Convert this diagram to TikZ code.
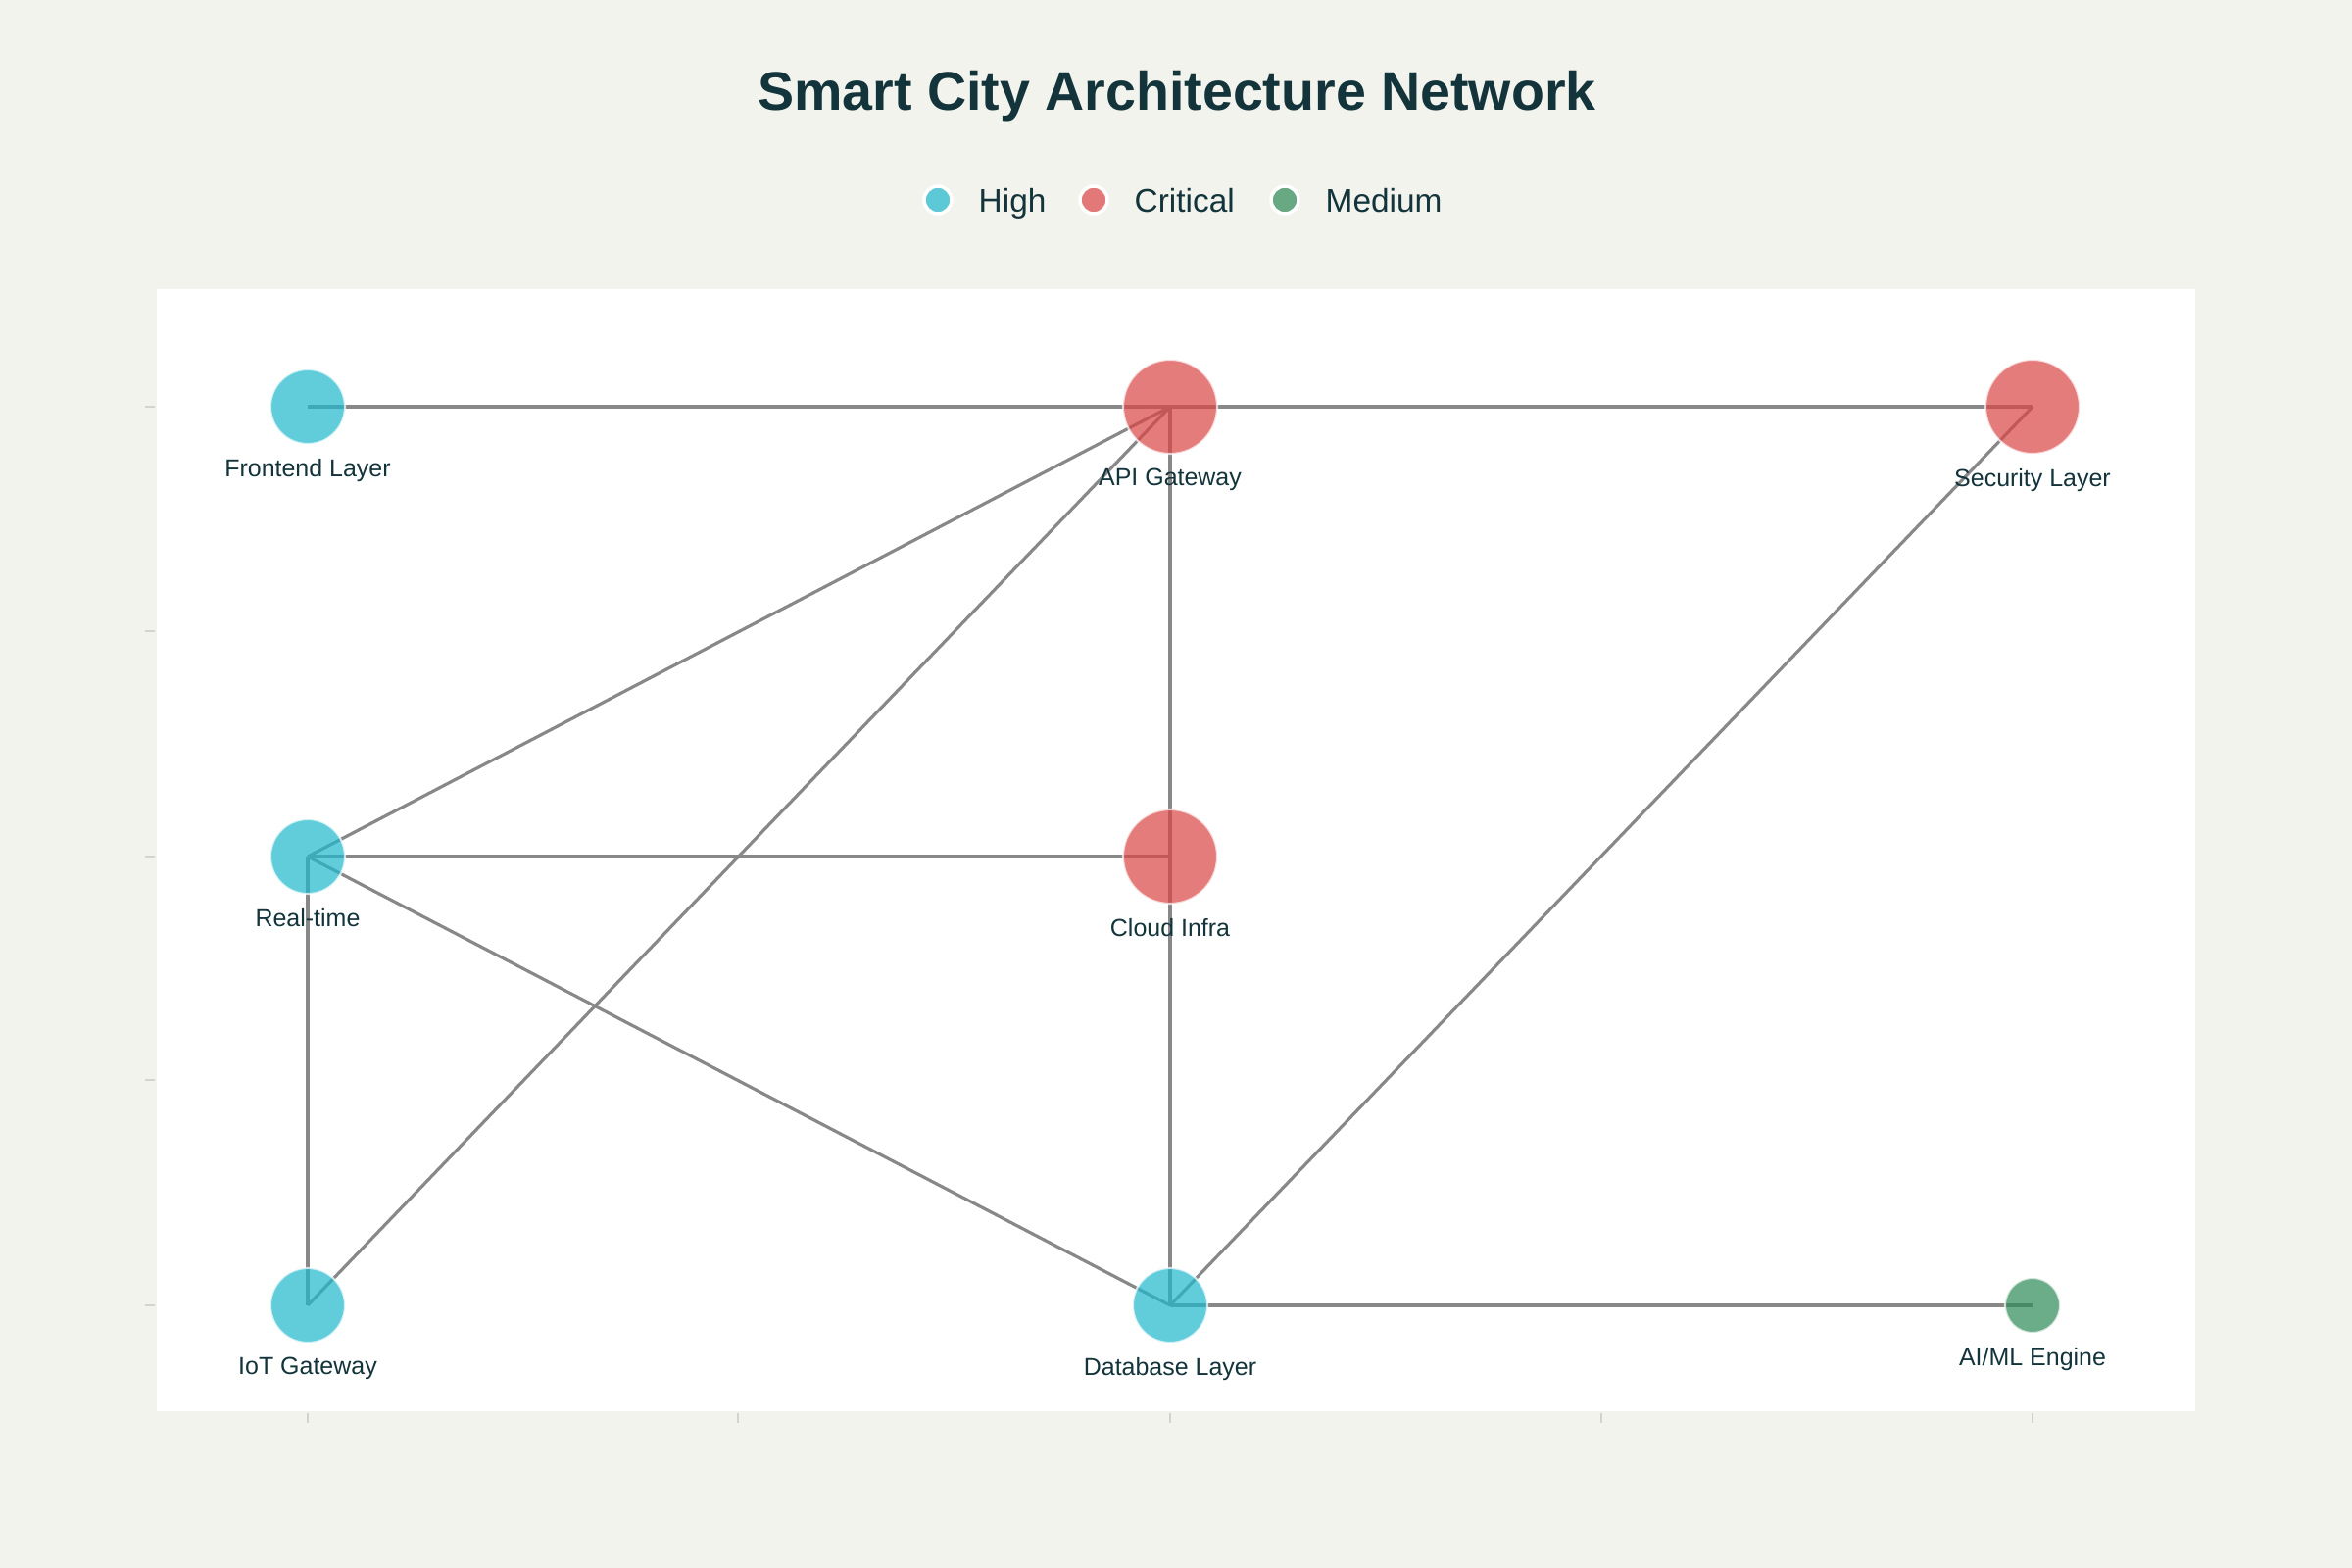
\documentclass[tikz,border=0pt]{standalone}
\usepackage{fontspec}
\setmainfont{Liberation Sans}
\definecolor{pagebg}{HTML}{F3F3EE}
\definecolor{inkteal}{HTML}{13343B}
\definecolor{highcol}{HTML}{1FB8CD}
\definecolor{critcol}{HTML}{DB4545}
\definecolor{medcol}{HTML}{2E8B57}
\definecolor{edgegray}{HTML}{888888}
\definecolor{tickgray}{HTML}{D4D4CF}
\pgfdeclarelayer{back}
\pgfdeclarelayer{wires}
\pgfsetlayers{back,wires,main}
\tikzset{
  dot/.style={circle, inner sep=0pt, draw=white, line width=0.6pt, fill opacity=0.7, draw opacity=0.7},
  highdot/.style={dot, fill=highcol, minimum size=0.76cm},
  critdot/.style={dot, fill=critcol, minimum size=0.96cm},
  meddot/.style={dot, fill=medcol, minimum size=0.56cm},
  nlabel/.style={text=inkteal, font=\fontsize{7.1}{8.5}\selectfont, opacity=1, fill opacity=1, text opacity=1, label distance=0.5pt},
  wire/.style={draw=edgegray, line width=0.9pt},
  keydot/.style={circle, inner sep=0pt, minimum size=0.28cm, draw=white, line width=1pt, fill opacity=0.7},
  keytext/.style={anchor=base west, inner sep=0pt, text=inkteal, font=\fontsize{9.5}{11}\selectfont},
  tick/.style={draw=tickgray, line width=0.5pt}
}
\begin{document}
\begin{tikzpicture}[x=0.01cm, y=-0.01cm]
\begin{pgfonlayer}{back}
\fill[pagebg] (0,0) rectangle (2400,1600);
\fill[white] (160,295) rectangle (2240,1440);
\foreach \ty in {415,644,874,1102,1332}
  \draw[tick] (148,\ty) -- (158,\ty);
\foreach \tx in {314,753,1194,1634,2074}
  \draw[tick] (\tx,1442) -- (\tx,1452);
\end{pgfonlayer}
\useasboundingbox (0,0) rectangle (2400,1600);

\node[text=inkteal, font=\fontsize{15.8}{19}\bfseries\selectfont] (title) at (1201,98) {Smart City Architecture Network};

% legend
\node[keydot, fill=highcol] (keyhigh) at (957,204) {};
\node[keytext] (keyhightxt) at (998,217) {High};
\node[keydot, fill=critcol] (keycrit) at (1116,204) {};
\node[keytext] (keycrittxt) at (1157,217) {Critical};
\node[keydot, fill=medcol] (keymed) at (1311,204) {};
\node[keytext] (keymedtxt) at (1352,217) {Medium};

% layers of the network
\node[highdot, label={[nlabel]below:Frontend Layer}] (frontend) at (314,415) {};
\node[critdot, label={[nlabel]below:API Gateway}] (api) at (1194,415) {};
\node[critdot, label={[nlabel]below:Security Layer}] (security) at (2074,415) {};
\node[highdot, label={[nlabel]below:Real-time}] (realtime) at (314,874) {};
\node[critdot, label={[nlabel]below:Cloud Infra}] (cloud) at (1194,874) {};
\node[highdot, label={[nlabel]below:IoT Gateway}] (iot) at (314,1332) {};
\node[highdot, label={[nlabel]below:Database Layer}] (database) at (1194,1332) {};
\node[meddot, label={[nlabel]below:AI/ML Engine}] (aiml) at (2074,1332) {};

\begin{pgfonlayer}{wires}
\draw[wire] (frontend.center) -- (api.center);
\draw[wire] (api.center) -- (security.center);
\draw[wire] (realtime.center) -- (api.center);
\draw[wire] (iot.center) -- (api.center);
\draw[wire] (api.center) -- (cloud.center);
\draw[wire] (realtime.center) -- (cloud.center);
\draw[wire] (realtime.center) -- (iot.center);
\draw[wire] (realtime.center) -- (database.center);
\draw[wire] (cloud.center) -- (database.center);
\draw[wire] (database.center) -- (security.center);
\draw[wire] (database.center) -- (aiml.center);
\end{pgfonlayer}
\end{tikzpicture}
\end{document}
